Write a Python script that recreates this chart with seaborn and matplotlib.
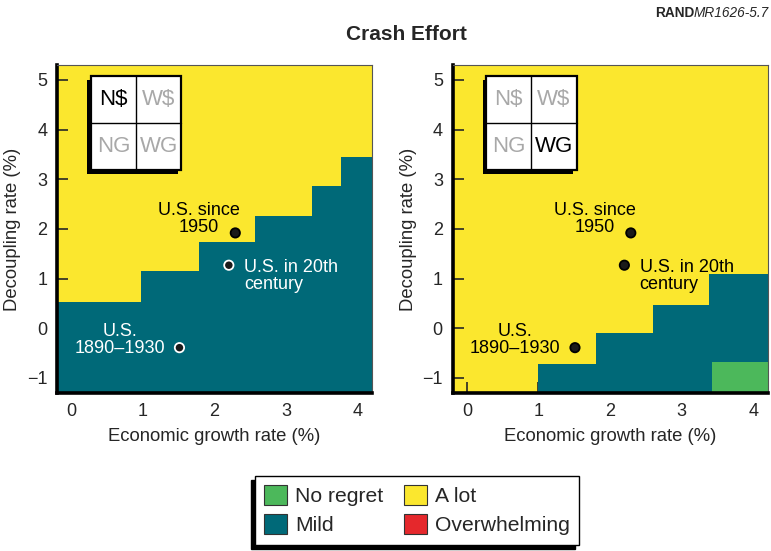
import numpy as np
import pandas as pd
import matplotlib
matplotlib.use('Agg')
import matplotlib.pyplot as plt
from matplotlib.patches import Patch, Rectangle
import seaborn as sns

# outcome classes and their colours
classes = ['No regret', 'Mild', 'A lot', 'Overwhelming']
class_colours = ['#4cb85b', '#006978', '#fbe72e', '#e5282c']

# left panel (N$ strategy): step boundary of the "Mild" region
left_mild_x = [-0.2, 0.97, 1.78, 2.56, 3.36, 3.76, 4.2]
left_mild_top = [0.53, 1.15, 1.73, 2.26, 2.87, 3.45, 3.45]

# right panel (WG strategy)
right_mild_x = [1.0, 1.8, 2.6, 3.38, 4.2]
right_mild_top = [-0.72, -0.10, 0.47, 1.09, 1.09]
right_noregret_x = [3.43, 4.2]
right_noregret_top = [-0.67, -0.67]

# historical U.S. points
us_labels = ['U.S. since\n1950', 'U.S. in 20th\ncentury', 'U.S.\n1890\u20131930']
us_growth = [2.29, 2.2, 1.51]
us_decoupling = [1.92, 1.27, -0.39]

x_ticks = [0, 1, 2, 3, 4]
y_ticks = [-1, 0, 1, 2, 3, 4, 5]
XLIM = (-0.2, 4.2)
YLIM = (-1.3, 5.3)

sns.set_style('white')
plt.rcParams['font.family'] = ['Liberation Sans', 'DejaVu Sans']

FS = 13

panels = [
    {'active': 'N$',
     'layers': [(left_mild_x, left_mild_top, class_colours[1])]},
    {'active': 'WG',
     'layers': [(right_mild_x, right_mild_top, class_colours[1]),
                (right_noregret_x, right_noregret_top, class_colours[0])]},
]


def colour_at(layers, px, py):
    """Colour of the region under a point (background is 'A lot')."""
    colour = class_colours[2]
    for xs, tops, c in layers:
        if xs[0] <= px < xs[-1]:
            i = np.searchsorted(xs, px, side='right') - 1
            if py < tops[i]:
                colour = c
    return colour


def strategy_box(ax, active):
    x0, y0, w, h = 0.107, 0.68, 0.287, 0.286
    ax.add_patch(Rectangle((x0 - 0.011, y0 - 0.011), w, h, transform=ax.transAxes,
                           facecolor='black', edgecolor='none', zorder=5))
    ax.add_patch(Rectangle((x0, y0), w, h, transform=ax.transAxes,
                           facecolor='white', edgecolor='black', lw=1.6, zorder=6))
    ax.plot([x0 + w / 2] * 2, [y0, y0 + h], color='black', lw=1,
            transform=ax.transAxes, zorder=7)
    ax.plot([x0, x0 + w], [y0 + h / 2] * 2, color='black', lw=1,
            transform=ax.transAxes, zorder=7)
    cells = {'N$': (0, 1), 'W$': (1, 1), 'NG': (0, 0), 'WG': (1, 0)}
    for lab, (i, j) in cells.items():
        ax.text(x0 + w / 4 + i * w / 2, y0 + h / 4 + j * h / 2, lab,
                transform=ax.transAxes, ha='center', va='center', fontsize=16,
                color='black' if lab == active else '#a8a8a8', zorder=8)


fig = plt.figure(figsize=(7.71, 5.51), dpi=100)
axes = [fig.add_axes([0.074, 0.287, 0.4085, 0.595]),
        fig.add_axes([0.587, 0.287, 0.4085, 0.595])]

points = pd.DataFrame({'growth': us_growth, 'decoupling': us_decoupling, 'label': us_labels})
label_offsets = [(-26, 10), (11, -8), (-43, 5.5)]
label_align = ['center', 'left', 'center']

for ax, panel in zip(axes, panels):
    layers = panel['layers']
    ax.set_facecolor(class_colours[2])
    for xs, tops, c in layers:
        ax.fill_between(xs, YLIM[0], tops, step='post', color=c, lw=0, zorder=1)

    edge = [('white' if colour_at(layers, gx, gy) != class_colours[2] else 'black')
            for gx, gy in zip(us_growth, us_decoupling)]
    sns.scatterplot(data=points, x='growth', y='decoupling', ax=ax, color='#1a1a1a',
                    s=45, edgecolor=edge, linewidth=1.3, zorder=4, legend=False)
    for (gx, gy, lab), off, ha in zip(zip(us_growth, us_decoupling, us_labels),
                                       label_offsets, label_align):
        on_dark = colour_at(layers, gx, gy) == class_colours[1]
        ax.annotate(lab, (gx, gy), xytext=off, textcoords='offset points',
                    ha=ha, va='center', fontsize=FS, linespacing=1.0,
                    multialignment='left' if ha == 'left' else 'center',
                    color='white' if on_dark else 'black', zorder=4)

    strategy_box(ax, panel['active'])

    ax.set_xlim(XLIM)
    ax.set_ylim(YLIM)
    ax.set_xticks(x_ticks)
    ax.set_yticks(y_ticks)
    ax.set_yticklabels([str(v).replace('-', '\u2212') for v in y_ticks])
    ax.tick_params(direction='in', length=8, width=1.2, labelsize=FS, pad=7,
                   left=True, bottom=True)
    for t, v in zip(ax.xaxis.get_major_ticks(), x_ticks):
        dark = colour_at(layers, v, YLIM[0] + 0.05) == class_colours[1]
        t.tick1line.set_color('#d8d8d8' if dark else 'black')
    for t, v in zip(ax.yaxis.get_major_ticks(), y_ticks):
        dark = colour_at(layers, XLIM[0] + 0.01, v) == class_colours[1]
        t.tick1line.set_color('#d8d8d8' if dark else 'black')

    ax.set_xlabel('Economic growth rate (%)', fontsize=FS + 0.3, labelpad=6)
    ax.set_ylabel('Decoupling rate (%)', fontsize=FS + 0.3, labelpad=4)
    for side in ['left', 'bottom']:
        ax.spines[side].set_linewidth(2.6)
        ax.spines[side].set_color('black')
    for side in ['top', 'right']:
        ax.spines[side].set_linewidth(0.8)
        ax.spines[side].set_color('#555555')

fig.text(0.527, 0.937, 'Crash Effort', ha='center', va='center', fontsize=15,
         fontweight='bold')
fig.text(0.9, 0.976, 'RAND', ha='right', va='center', fontsize=9.8, fontweight='bold')
fig.text(0.9, 0.976, 'MR1626-5.7', ha='left', va='center', fontsize=9.8, style='italic')

handles = [Patch(facecolor=c, edgecolor='#333333', lw=0.8, label=l)
           for l, c in zip(classes, class_colours)]
fig.legend(handles=handles, ncol=2, loc='center', bbox_to_anchor=(0.541, 0.074),
           fontsize=15.2, frameon=True, fancybox=False, edgecolor='black',
           framealpha=1, handlelength=1.05, handleheight=1.05, handletextpad=0.4,
           columnspacing=1.0, labelspacing=0.4, borderpad=0.45,
           shadow={'ox': -3, 'oy': -3, 'facecolor': 'black', 'edgecolor': 'black',
                   'alpha': 1})

fig.savefig('out.png', dpi=100)
